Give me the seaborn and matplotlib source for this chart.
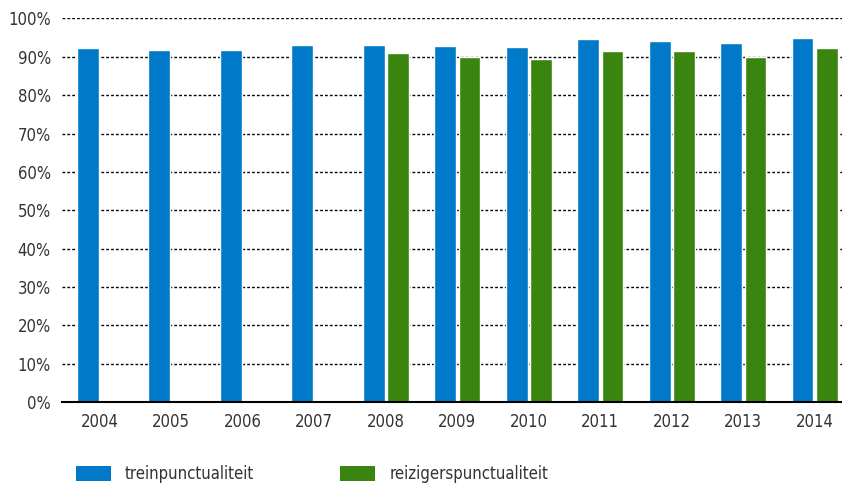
import pandas as pd
import matplotlib.pyplot as plt
import seaborn as sns
from matplotlib.patches import Patch

# Values (percent)
years = ['2004', '2005', '2006', '2007', '2008', '2009', '2010', '2011', '2012', '2013', '2014']
trein = [92.3, 91.8, 91.8, 93.1, 93.1, 92.8, 92.6, 94.7, 94.1, 93.6, 94.9]
reiziger = [0, 0, 0, 0, 91.0, 90.0, 89.4, 91.5, 91.5, 90.0, 92.3]
series = ['treinpunctualiteit', 'reizigerspunctualiteit']
colors = ['#0079c8', '#3a8510']

df = pd.DataFrame({
    'jaar': years * 2,
    'serie': [series[0]] * len(years) + [series[1]] * len(years),
    'waarde': trein + reiziger,
})

sns.set_style("white")
plt.rcParams['font.family'] = ['DejaVu Sans']
plt.rcParams['font.stretch'] = 'condensed'
text_color = '#333333'

fig = plt.figure(figsize=(8.42, 4.86), dpi=100)
ax = fig.add_axes([0.0736, 0.1728, 0.9264, 0.7892])

sns.barplot(data=df, x='jaar', y='waarde', hue='serie', palette=colors,
            width=0.68, gap=0.11, ax=ax, legend=False, saturation=1)

ax.set_ylim(0, 100)
ax.set_xlim(-0.53, 10.38)
ax.set_yticks(range(0, 101, 10))
ax.set_yticklabels([f'{v}%' for v in range(0, 101, 10)])
ax.yaxis.grid(True, color='black', linestyle=(0, (2, 1.5)), linewidth=1)
ax.set_axisbelow(True)
ax.tick_params(axis='both', length=0, labelsize=12, colors=text_color)
ax.tick_params(axis='x', pad=8)
ax.tick_params(axis='y', pad=8)
ax.set_xlabel('')
ax.set_ylabel('')
for side in ['top', 'right', 'left']:
    ax.spines[side].set_visible(False)
ax.spines['bottom'].set_color('black')
ax.spines['bottom'].set_linewidth(1.5)

# two legend entries placed separately, as in the reference
for h, lab, x0 in zip(colors, series, [0.082, 0.396]):
    fig.legend([Patch(facecolor=h, edgecolor='none')], [lab], loc='lower left',
               bbox_to_anchor=(x0, -0.008), borderaxespad=0, frameon=False,
               fontsize=12, handlelength=2.1, handleheight=1.05,
               handletextpad=0.85, labelcolor=text_color)

plt.savefig('out.png', dpi=100)
